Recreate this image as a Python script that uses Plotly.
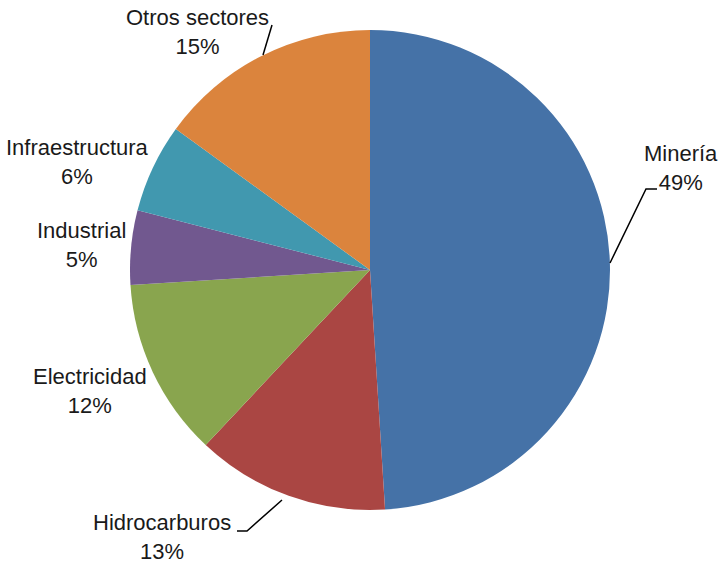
import plotly.graph_objects as go

sectores = ["Minería", "Hidrocarburos", "Electricidad", "Industrial", "Infraestructura", "Otros sectores"]
porcentajes = [49, 13, 12, 5, 6, 15]
colores = ["#4572A7", "#AA4643", "#89A54E", "#71588F", "#4198AF", "#DB843D"]

W, H = 721, 566

# label anchor positions in window pixels: (x, y, xanchor)
label_pos = [(720, 168, "right"), (162, 537, "center"), (90, 391, "center"),
             (81, 245, "center"), (77, 162, "center"), (197, 32, "center")]


def px(x):
    return x / W


def py(y):
    return 1 - y / H


fig = go.Figure(go.Pie(
    labels=sectores,
    values=porcentajes,
    sort=False,
    direction="clockwise",
    rotation=0,
    marker=dict(colors=colores, line=dict(width=0)),
    textinfo="none",
    hoverinfo="label+percent",
    domain=dict(x=[px(130), px(610)], y=[py(510), py(30)]),
    showlegend=False,
))

font = dict(family="Liberation Sans Narrow, Arial Narrow, Liberation Sans, Arial", size=22, color="#1a1a1a")
annotations = []
for name, val, (x, y, xa) in zip(sectores, porcentajes, label_pos):
    annotations.append(dict(
        x=px(x), y=py(y), xref="paper", yref="paper",
        text=f"{name}<br>{val}%", showarrow=False, font=font,
        xanchor=xa, yanchor="middle", align="center",
    ))

leaders = [
    [(610, 263), (646, 189), (657, 189)],
    [(282, 500), (247, 531), (237, 531)],
    [(263, 55), (272, 25)],
]
shapes = []
for pts in leaders:
    path = "M " + " L ".join(f"{px(x)},{py(y)}" for x, y in pts)
    shapes.append(dict(type="path", xref="paper", yref="paper", path=path,
                       line=dict(color="black", width=1.5)))

fig.update_layout(
    width=W, height=H,
    margin=dict(l=0, r=0, t=0, b=0),
    paper_bgcolor="white", plot_bgcolor="white",
    annotations=annotations, shapes=shapes,
)

fig.write_html("out.html", config={"displayModeBar": False},
               post_script="document.body.style.margin='0';document.body.style.overflow='hidden';")
